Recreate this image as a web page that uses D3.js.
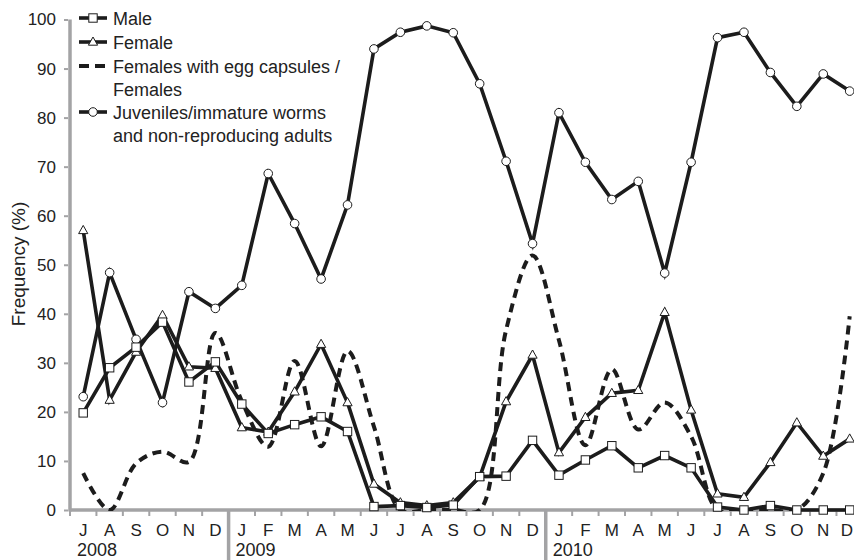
<!DOCTYPE html>
<html>
<head>
<meta charset="utf-8">
<script src="https://cdn.jsdelivr.net/npm/d3@7"></script>
<style>
  html, body { margin: 0; padding: 0; background: #fff; }
  svg { display: block; font-family: "Liberation Sans", Arial, Helvetica, sans-serif; }
</style>
</head>
<body>
<svg id="chart" width="854" height="560"></svg>
<script>
// Monthly samples, July 2008 to December 2010
const months = ["J","A","S","O","N","D","J","F","M","A","M","J","J","A","S","O","N","D","J","F","M","A","M","J","J","A","S","O","N","D"];
const years = [{ label: "2008", start: 0 }, { label: "2009", start: 6 }, { label: "2010", start: 18 }];

const male = [19.8, 29.0, 33.2, 38.3, 26.1, 30.2, 21.6, 15.6, 17.4, 19.0, 16.0, 0.7, 0.9, 0.5, 1.0, 6.8, 6.9, 14.2, 7.1, 10.2, 13.1, 8.6, 11.1, 8.6, 0.6, 0.0, 0.9, 0.0, 0.0, 0.0];
const female = [57.0, 22.4, 32.2, 39.7, 29.2, 28.9, 16.8, 15.9, 24.1, 33.8, 21.9, 5.3, 1.5, 0.9, 1.5, 6.7, 22.1, 31.6, 11.7, 18.9, 23.8, 24.4, 40.3, 20.4, 3.3, 2.6, 9.7, 17.8, 11.0, 14.5];
const eggRatio = [7.5, 0.0, 9.5, 11.9, 9.8, 36.1, 22.2, 12.9, 30.4, 13.0, 32.4, 17.0, 0.0, 0.0, 0.0, 0.0, 36.7, 51.9, 34.6, 13.2, 28.7, 16.4, 21.9, 15.0, 0.0, 0.0, 0.0, 0.0, 7.5, 39.5];
const juveniles = [23.1, 48.4, 34.8, 21.9, 44.5, 41.1, 45.8, 68.6, 58.4, 47.1, 62.2, 94.0, 97.4, 98.7, 97.3, 86.9, 71.1, 54.3, 81.0, 70.9, 63.3, 67.0, 48.3, 70.9, 96.3, 97.4, 89.2, 82.3, 88.9, 85.4];

const yTicks = [0, 10, 20, 30, 40, 50, 60, 70, 80, 90, 100];

const legendItems = [
  { lines: ["Male"], marker: "square", dashed: false },
  { lines: ["Female"], marker: "triangle", dashed: false },
  { lines: ["Females with egg capsules /", "Females"], marker: null, dashed: true },
  { lines: ["Juveniles/immature worms", "and non-reproducing adults"], marker: "circle", dashed: false }
];

const ink = "#1c1c1c";
const textInk = "#222";
const axisGrey = "#a3a3a5";
const W = 854;

const svg = d3.select("#chart");

const x = d3.scaleBand()
  .domain(d3.range(months.length))
  .range([70, 70 + 26.43 * months.length])
  .paddingInner(0).paddingOuter(0);
const cx = i => x(i) + x.bandwidth() / 2;

const y = d3.scaleLinear().domain([0, 100]).range([510, 19.5]);

// plot-area clip, so smoothed curves stay above the baseline
svg.append("defs").append("clipPath").attr("id", "plotClip")
  .append("rect").attr("x", 70).attr("y", 0).attr("width", W - 70).attr("height", y(0) + 1);

// y axis
const yAxis = d3.axisLeft(y).tickValues(yTicks).tickSize(4).tickPadding(8);
const gy = svg.append("g").attr("transform", "translate(68,0)").call(yAxis);
gy.select(".domain").remove();
gy.selectAll(".tick line").attr("stroke", axisGrey).attr("stroke-width", 2);
gy.selectAll(".tick text").attr("fill", textInk).attr("font-size", 17)
  .attr("font-family", "Liberation Sans, Arial, sans-serif");
svg.append("line")
  .attr("x1", 70).attr("x2", 70).attr("y1", y(100)).attr("y2", y(0) + 1.5)
  .attr("stroke", axisGrey).attr("stroke-width", 3.5);

// x axis: ticks at month boundaries
const gx = svg.append("g");
gx.append("line")
  .attr("x1", 70).attr("x2", W).attr("y1", y(0)).attr("y2", y(0))
  .attr("stroke", axisGrey).attr("stroke-width", 3.5);
gx.selectAll("line.tick")
  .data(d3.range(months.length + 1))
  .join("line")
  .attr("class", "tick")
  .attr("x1", i => 70 + i * x.bandwidth()).attr("x2", i => 70 + i * x.bandwidth())
  .attr("y1", y(0)).attr("y2", y(0) + 6)
  .attr("stroke", axisGrey).attr("stroke-width", 2);
gx.selectAll("text.month")
  .data(months)
  .join("text")
  .attr("class", "month")
  .attr("x", (d, i) => cx(i))
  .attr("y", 536)
  .attr("text-anchor", "middle")
  .attr("font-size", 17)
  .attr("fill", textInk)
  .text(d => d)
  .each(function () {
    // keep the last letter inside the frame
    const half = this.getComputedTextLength() / 2;
    const px = +this.getAttribute("x");
    if (px + half > W - 1) this.setAttribute("x", W - 1 - half);
  });
// year separators and labels
gx.selectAll("line.year")
  .data(years.filter(d => d.start > 0))
  .join("line")
  .attr("class", "year")
  .attr("x1", d => x(d.start)).attr("x2", d => x(d.start))
  .attr("y1", y(0)).attr("y2", 560)
  .attr("stroke", axisGrey).attr("stroke-width", 3.5);
gx.selectAll("text.year")
  .data(years)
  .join("text")
  .attr("class", "year")
  .attr("x", d => x(d.start) + 7)
  .attr("y", 556)
  .attr("font-size", 18)
  .attr("fill", textInk)
  .text(d => d.label);

// y axis title
svg.append("text")
  .attr("transform", "translate(25,264) rotate(-90)")
  .attr("text-anchor", "middle")
  .attr("font-size", 19)
  .attr("fill", textInk)
  .text("Frequency (%)");

// series
const straight = d3.line().x((d, i) => cx(i)).y(d => y(d));
const smooth = d3.line().x((d, i) => cx(i)).y(d => y(d)).curve(d3.curveCatmullRom.alpha(0.5));

const plot = svg.append("g");

plot.append("path").datum(eggRatio)
  .attr("d", smooth)
  .attr("clip-path", "url(#plotClip)")
  .attr("fill", "none").attr("stroke", ink).attr("stroke-width", 4)
  .attr("stroke-dasharray", "9,6");

[juveniles, female, male].forEach(series => {
  plot.append("path").datum(series)
    .attr("d", straight)
    .attr("fill", "none").attr("stroke", ink).attr("stroke-width", 3.6)
    .attr("stroke-linejoin", "miter");
});

function drawMarker(g, type, px, py) {
  if (type === "circle") {
    g.append("circle").attr("cx", px).attr("cy", py).attr("r", 4.3)
      .attr("fill", "#fff").attr("stroke", ink).attr("stroke-width", 1);
  } else if (type === "square") {
    g.append("rect").attr("x", px - 4.2).attr("y", py - 4.2).attr("width", 8.4).attr("height", 8.4)
      .attr("fill", "#fff").attr("stroke", ink).attr("stroke-width", 1);
  } else if (type === "triangle") {
    g.append("path")
      .attr("d", `M${px},${py - 5} L${px + 4.6},${py + 3.2} L${px - 4.6},${py + 3.2} Z`)
      .attr("fill", "#fff").attr("stroke", ink).attr("stroke-width", 1);
  }
}

const markers = plot.append("g");
juveniles.forEach((v, i) => drawMarker(markers, "circle", cx(i), y(v)));
female.forEach((v, i) => drawMarker(markers, "triangle", cx(i), y(v)));
male.forEach((v, i) => drawMarker(markers, "square", cx(i), y(v)));

// legend
const legend = svg.append("g");
const rowY = [[18], [42], [66, 89], [112, 135]];
legendItems.forEach((item, k) => {
  const ly = rowY[k][0];
  const ln = legend.append("line")
    .attr("x1", 79).attr("x2", 107).attr("y1", ly).attr("y2", ly)
    .attr("stroke", ink).attr("stroke-width", 3.6);
  if (item.dashed) ln.attr("stroke-dasharray", "10,6").attr("stroke-width", 4);
  if (item.marker) drawMarker(legend, item.marker, 93, ly);
  item.lines.forEach((t, j) => {
    legend.append("text")
      .attr("x", 113).attr("y", rowY[k][j] + 6.5)
      .attr("font-size", 18)
      .attr("fill", textInk)
      .text(t);
  });
});
</script>
</body>
</html>
